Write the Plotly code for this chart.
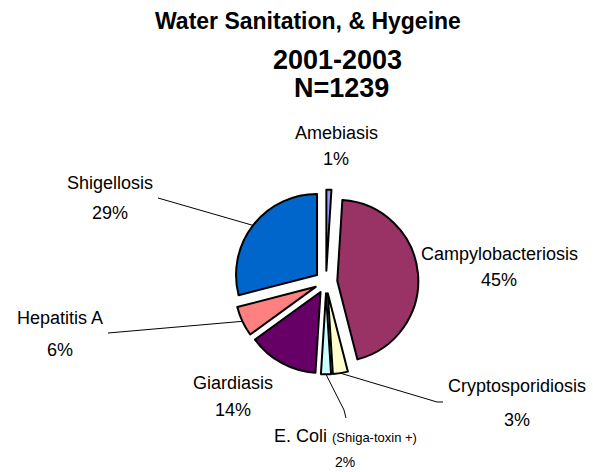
import numpy as np
import plotly.graph_objects as go

# Data
diseases = ["Amebiasis", "Campylobacteriosis", "Cryptosporidiosis", "E. Coli",
            "Giardiasis", "Hepatitis A", "Shigellosis"]
percents = [1, 45, 3, 2, 14, 6, 29]
notes = ["", "", "", "(Shiga-toxin +)", "", "", ""]
title_lines = ["Water Sanitation, & Hygeine", "2001-2003", "N=1239"]

# Excel-style palette
SLICE_COLORS = ["#9999FF", "#993366", "#FFFFCC", "#CCFFFF", "#660066", "#FF8080", "#0066CC"]

W, H = 593, 472
CX, CY, R, PULL = 326, 282, 81, 0.14  # pie geometry in pixels

FONT = "Liberation Sans, Arial"

# label placement in pixels: x centre, y of name line, y of percent line
label_pos = {
    "Amebiasis": (336, 133, 159),
    "Campylobacteriosis": (499, 254, 280),
    "Cryptosporidiosis": (517, 386, 420),
    "E. Coli": (345, 436, 462),
    "Giardiasis": (233, 383, 410),
    "Hepatitis A": (60, 318, 350),
    "Shigellosis": (110, 183, 213),
}
# label-side points of the leader lines
leader_pts = {
    "Cryptosporidiosis": [(437, 402), (443, 402)],
    "E. Coli": [(344, 410), (346, 418)],
    "Hepatitis A": [(108, 333)],
    "Shigellosis": [(158, 198)],
}


def px(x, y):
    return x / W, 1 - y / H


def text_at(x, y, text, size, bold=False):
    tx, ty = px(x, y)
    return dict(
        x=tx, y=ty, xref="paper", yref="paper",
        text=f"<b>{text}</b>" if bold else text, showarrow=False,
        xanchor="center", yanchor="middle",
        font=dict(family=FONT, size=size, color="black"),
    )


half = R * (1 + PULL)
fig = go.Figure(go.Pie(
    labels=diseases,
    values=percents,
    sort=False,
    direction="clockwise",
    rotation=0,
    pull=PULL,
    textinfo="none",
    hoverinfo="label+percent",
    marker=dict(colors=SLICE_COLORS, line=dict(color="black", width=2)),
    domain=dict(x=[(CX - half) / W, (CX + half) / W],
                y=[1 - (CY + half) / H, 1 - (CY - half) / H]),
))

# slice mid angles, clockwise from 12 o'clock
fracs = np.array(percents) / sum(percents)
mids = (np.cumsum(fracs) - fracs / 2) * 2 * np.pi

annotations = []
shapes = []
for name, pct, note, mid in zip(diseases, percents, notes, mids):
    x, y1, y2 = label_pos[name]
    if note:
        annotations.append(text_at(x, y1, f"{name} <span style='font-size:13px'>{note}</span>", 18))
        annotations.append(text_at(x, y2, f"{pct}%", 14))
    else:
        annotations.append(text_at(x, y1, name, 18))
        annotations.append(text_at(x, y2, f"{pct}%", 18))
    if name in leader_pts:
        edge = (CX + half * np.sin(mid), CY - half * np.cos(mid))
        pts = [edge] + leader_pts[name]
        path = "M " + " L ".join(f"{px(a, b)[0]:.5f},{px(a, b)[1]:.5f}" for a, b in pts)
        shapes.append(dict(type="path", xref="paper", yref="paper", path=path,
                           line=dict(color="black", width=1)))

# title, one annotation per line
for text, (x, y), size in zip(title_lines, [(308, 21), (337, 60), (341, 88)], [23, 27, 27]):
    annotations.append(text_at(x, y, text, size, bold=True))

fig.update_layout(
    width=W,
    height=H,
    showlegend=False,
    plot_bgcolor="white",
    paper_bgcolor="white",
    margin=dict(l=0, r=0, t=0, b=0),
    annotations=annotations,
    shapes=shapes,
)

# drop the default page margin so the figure sits at the window's corner
fig.write_html("out.html", config={"displayModeBar": False},
               post_script="document.body.style.margin='0px';")
